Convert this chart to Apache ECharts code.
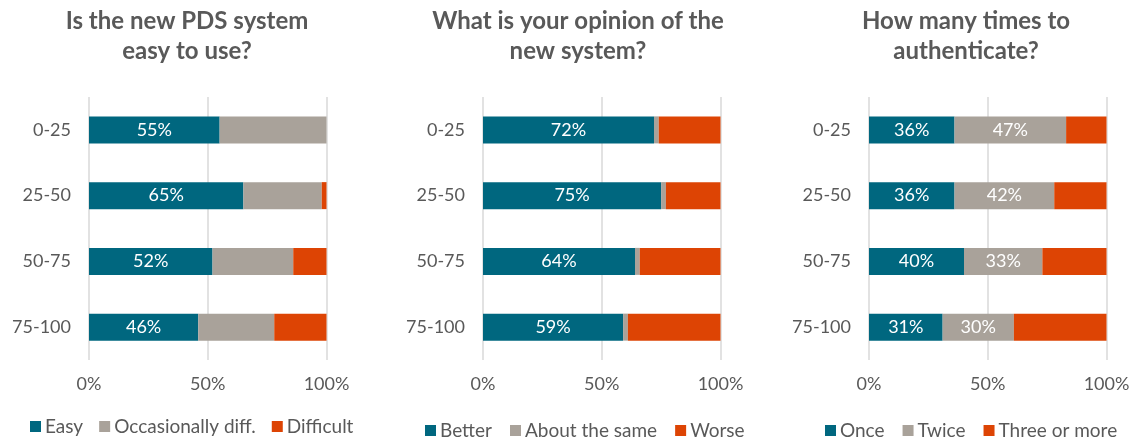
<!DOCTYPE html>
<html>
<head>
<meta charset="utf-8">
<script src="https://cdn.jsdelivr.net/npm/echarts@6/dist/echarts.min.js"></script>
<style>html,body{margin:0;padding:0;background:#fff}#c{width:1133px;height:443px}</style>
</head>
<body>
<div id="c"></div>
<script>
const categories = ['0-25', '25-50', '50-75', '75-100'];
const xTicks = [0, 50, 100];

const titles = ['Is the new PDS system\neasy to use?', 'What is your opinion of the\nnew system?', 'How many times to\nauthenticate?'];

// Panel 1
const easy = [55, 65, 52, 46];
const occasionallyDiff = [45, 33, 34, 32];
const difficult = [0, 2, 14, 22];
// Panel 2
const better = [72, 75, 64, 59];
const aboutSame = [2, 2, 2, 2];
const worse = [26, 23, 34, 39];
// Panel 3
const once = [36, 36, 40, 31];
const twice = [47, 42, 33, 30];
const threeOrMore = [17, 22, 27, 39];

const panels = [
  { names: ['Easy', 'Occasionally diff.', 'Difficult'], data: [easy, occasionallyDiff, difficult], labels: [true, false, false] },
  { names: ['Better', 'About the same', 'Worse'], data: [better, aboutSame, worse], labels: [true, false, false] },
  { names: ['Once', 'Twice', 'Three or more'], data: [once, twice, threeOrMore], labels: [true, true, false] }
];

const colors = ['#00677F', '#A9A29A', '#DD4404'];
const FONT = 'Lato';
const TXT = '#595959';
const gridLefts = [89, 483, 869];
const gridWidth = 237.5;
const titleCenters = [187, 578, 966];
const legendLefts = [30, 425, 825];
const legendTops = [417, 421, 421];
const legendGaps = [16, 18, 18];

const option = {
  animation: false,
  textStyle: { fontFamily: FONT },
  title: titles.map((t, i) => ({
    text: t, left: titleCenters[i], top: 0, padding: [6, 0, 0, 0], textAlign: 'center',
    textStyle: { fontFamily: FONT, fontSize: 24, fontWeight: 'bold', color: TXT, lineHeight: 30 }
  })),
  legend: panels.map((p, i) => ({
    data: p.names, left: legendLefts[i], top: legendTops[i], padding: 0,
    icon: 'rect', itemWidth: 11, itemHeight: 11, itemGap: legendGaps[i],
    textStyle: { fontFamily: FONT, fontSize: 19, color: TXT, padding: [0, 0, 0, -1] },
    selectedMode: false
  })),
  grid: gridLefts.map(l => ({ left: l, width: gridWidth, top: 97, height: 263, containLabel: false })),
  xAxis: gridLefts.map((l, i) => ({
    type: 'value', gridIndex: i, min: xTicks[0], max: xTicks[xTicks.length - 1], interval: xTicks[1] - xTicks[0],
    axisLine: { show: false }, axisTick: { show: false },
    axisLabel: { formatter: '{value}%', fontFamily: FONT, fontSize: 18, color: TXT, margin: 15 },
    splitLine: { show: true, lineStyle: { color: '#D9D9D9', width: 1.5 } }
  })),
  yAxis: gridLefts.map((l, i) => ({
    type: 'category', gridIndex: i, data: categories, inverse: true,
    axisLine: { show: false }, axisTick: { show: false },
    axisLabel: { fontFamily: FONT, fontSize: 18, color: TXT, margin: 18 }
  })),
  series: []
};

panels.forEach((p, i) => {
  p.names.forEach((n, j) => {
    option.series.push({
      type: 'bar', name: n, stack: 'p' + i, xAxisIndex: i, yAxisIndex: i,
      data: p.data[j], barWidth: 27,
      itemStyle: { color: colors[j] },
      label: { show: p.labels[j], position: 'inside', formatter: '{c}%', color: '#fff', fontFamily: FONT, fontSize: 18 }
    });
  });
});

echarts.init(document.getElementById('c')).setOption(option);
</script>
</body>
</html>
